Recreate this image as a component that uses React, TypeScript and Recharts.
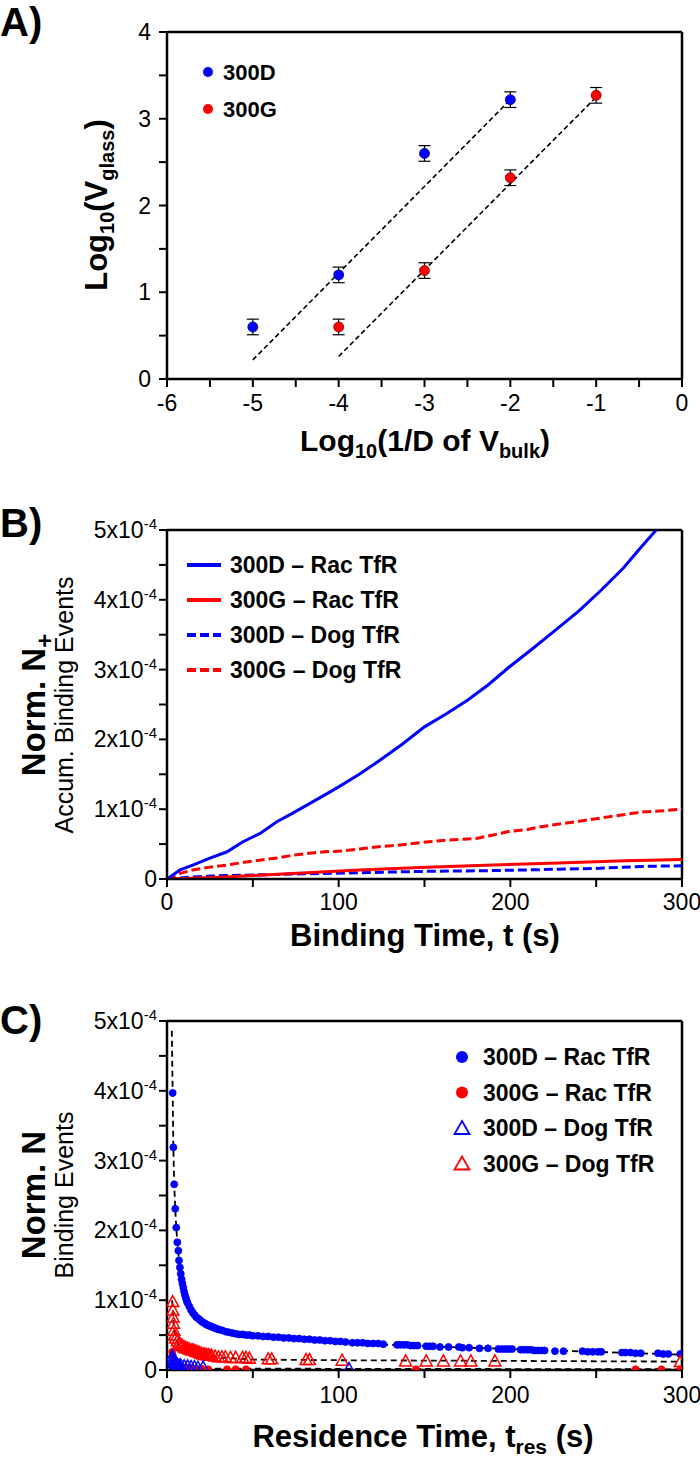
import React from 'react';
import { ComposedChart, XAxis, YAxis, Scatter, Line, ErrorBar, ReferenceLine } from 'recharts';

const FONT = "'Liberation Sans Narrow', 'Arial Narrow', 'Liberation Sans', Arial, sans-serif";
const BLUE = '#0000ff';
const RED = '#ff0000';

// ---------- Panel A ----------
const A_X_TICKS = [-6, -5.5, -5, -4.5, -4, -3.5, -3, -2.5, -2, -1.5, -1, -0.5, 0];
const A_Y_TICKS = [0, 0.5, 1, 1.5, 2, 2.5, 3, 3.5, 4];
const A_300D_X = [-5, -4, -3, -2];
const A_300D_Y = [0.6, 1.2, 2.6, 3.22];
const A_300D_ERR = [0.09, 0.09, 0.09, 0.09];
const A_300G_X = [-4, -3, -2, -1];
const A_300G_Y = [0.6, 1.25, 2.32, 3.27];
const A_300G_ERR = [0.09, 0.09, 0.09, 0.09];
const A_FIT_300D: [number, number][] = [[-5, 0.22], [-2, 3.22]];
const A_FIT_300G: [number, number][] = [[-4, 0.26], [-1, 3.25]];

// ---------- Panel B (values in units of 1e-4) ----------
const B_X_TICKS = [0, 50, 100, 150, 200, 250, 300];
const B_Y_TICKS = [0, 0.5, 1, 1.5, 2, 2.5, 3, 3.5, 4, 4.5, 5];
const B_300D_RAC: [number, number][] = [[0, 0], [7.6, 0.13], [15, 0.2], [25, 0.3], [35, 0.39], [44, 0.53], [54, 0.65], [64, 0.82], [73, 0.94], [83, 1.08], [93, 1.22], [100, 1.32], [112, 1.5], [124, 1.7], [137, 1.93], [150, 2.18], [163, 2.37], [175, 2.56], [187, 2.78], [199, 3.03], [214, 3.32], [227, 3.58], [240, 3.84], [253, 4.14], [266, 4.46], [276, 4.75], [285, 5.0]];
const B_300G_RAC: [number, number][] = [[0, 0], [35, 0.03], [73, 0.08], [112, 0.13], [151, 0.17], [190, 0.2], [228, 0.23], [267, 0.26], [300, 0.28]];
const B_300D_DOG: [number, number][] = [[0, 0], [15, 0.03], [35, 0.05], [73, 0.07], [112, 0.09], [151, 0.11], [190, 0.12], [228, 0.14], [248, 0.15], [277, 0.18], [300, 0.19]];
const B_300G_DOG: [number, number][] = [[0, 0], [7.6, 0.08], [15, 0.13], [25, 0.17], [35, 0.2], [45, 0.24], [54, 0.27], [64, 0.3], [73, 0.34], [83, 0.37], [92, 0.39], [102, 0.4], [112, 0.43], [122, 0.46], [137, 0.49], [151, 0.53], [165, 0.56], [180, 0.58], [190, 0.63], [199, 0.68], [210, 0.71], [218, 0.75], [238, 0.82], [257, 0.89], [277, 0.96], [290, 0.98], [300, 1.0]];

// ---------- Panel C (values in units of 1e-4) ----------
const C_X_TICKS = [0, 50, 100, 150, 200, 250, 300];
const C_Y_TICKS = [0, 0.5, 1, 1.5, 2, 2.5, 3, 3.5, 4, 4.5, 5];
const C_300D_RAC: [number, number][] = [[3.3, 3.97], [3.7, 3.19], [4.2, 2.66], [4.8, 2.31], [5.4, 2.04], [6.0, 1.83], [6.6, 1.71], [7.0, 1.57], [7.5, 1.47], [8, 1.38], [8.5, 1.3], [9, 1.24], [9.5, 1.18], [10, 1.12], [10.5, 1.07], [11, 1.03], [11.5, 0.99], [12, 0.96], [13, 0.91], [14, 0.86], [15, 0.82], [16, 0.79], [17, 0.76], [18, 0.74], [19, 0.72], [20, 0.7], [21, 0.68], [22, 0.67], [23, 0.65], [24, 0.64], [25, 0.63], [26, 0.62], [27, 0.61], [28, 0.6], [29, 0.59], [30, 0.58], [32, 0.57], [34, 0.55], [36, 0.54], [38, 0.53], [40, 0.52], [42, 0.51], [44, 0.51], [46, 0.5], [48, 0.5], [50, 0.49], [53, 0.49], [56, 0.48], [59, 0.48], [62, 0.47], [65, 0.47], [68, 0.46], [71, 0.46], [74, 0.45], [77, 0.45], [80, 0.44], [83, 0.44], [86, 0.43], [89, 0.43], [92, 0.42], [95, 0.42], [98, 0.41], [101, 0.41], [104, 0.4], [108, 0.39], [111, 0.39], [114, 0.39], [117, 0.38], [120, 0.38], [123, 0.38], [126, 0.37], [134, 0.36], [136, 0.36], [138, 0.36], [140, 0.36], [142, 0.35], [144, 0.35], [146, 0.35], [151, 0.34], [153, 0.34], [155, 0.34], [159, 0.33], [164, 0.33], [170, 0.33], [172, 0.32], [176, 0.32], [182, 0.31], [187, 0.31], [193, 0.3], [195, 0.3], [197, 0.3], [199, 0.3], [201, 0.3], [206, 0.29], [208, 0.29], [210, 0.29], [212, 0.29], [214, 0.28], [216, 0.28], [218, 0.28], [220, 0.28], [226, 0.27], [231, 0.27], [242, 0.27], [245, 0.26], [248, 0.26], [251, 0.26], [253, 0.26], [265, 0.25], [267, 0.25], [270, 0.25], [273, 0.24], [276, 0.24], [286, 0.24], [289, 0.23], [292, 0.23], [299, 0.23]];
const C_300G_RAC: [number, number][] = [[3.0, 0.26], [3.4, 0.2], [3.8, 0.15], [4.3, 0.11], [5, 0.08], [6, 0.06], [7, 0.05], [8, 0.04], [10, 0.03], [12, 0.03], [14, 0.02], [17, 0.02], [20, 0.02], [24, 0.01], [35, 0.01], [40, 0.01], [46, 0.01], [145, 0.01], [273, 0.01], [288, 0.01], [299, 0.01]];
const C_300D_DOG: [number, number][] = [[3.2, 0.2], [3.5, 0.16], [4, 0.13], [4.5, 0.11], [5, 0.09], [6, 0.08], [7, 0.07], [8, 0.07], [10, 0.06], [12, 0.06], [14, 0.05], [16, 0.05], [18, 0.04], [21, 0.04], [106, 0.02]];
const C_300G_DOG: [number, number][] = [[3.3, 0.98], [3.4, 0.86], [3.6, 0.76], [3.8, 0.67], [4.0, 0.57], [4.4, 0.5], [5, 0.46], [6, 0.42], [7, 0.39], [8, 0.37], [9, 0.35], [10, 0.33], [11, 0.32], [12, 0.31], [13, 0.3], [14, 0.29], [15, 0.29], [16, 0.28], [17, 0.27], [18, 0.26], [19, 0.25], [20, 0.24], [21, 0.23], [22, 0.23], [23, 0.22], [24, 0.22], [25, 0.21], [26, 0.21], [28, 0.2], [30, 0.19], [32, 0.19], [34, 0.19], [37, 0.18], [40, 0.18], [44, 0.18], [46, 0.18], [48, 0.17], [59, 0.16], [61, 0.16], [81, 0.15], [83, 0.15], [102, 0.14], [139, 0.13], [151, 0.13], [161, 0.13], [171, 0.13], [177, 0.13], [191, 0.13], [299, 0.12]];
const C_FIT_300D_RAC: [number, number][] = [[2.8, 4.86], [3.3, 3.97], [3.7, 3.19], [4.2, 2.66], [4.8, 2.31], [5.4, 2.04], [6, 1.83], [7, 1.57], [8, 1.38], [10, 1.12], [12, 0.96], [15, 0.82], [20, 0.7], [30, 0.58], [50, 0.49], [80, 0.44], [100, 0.41], [130, 0.36], [150, 0.34], [200, 0.3], [250, 0.26], [300, 0.22]];
const C_FIT_300G_DOG: [number, number][] = [[3.0, 1.0], [3.5, 0.78], [4, 0.6], [5, 0.45], [7, 0.36], [10, 0.31], [15, 0.26], [20, 0.22], [30, 0.18], [50, 0.15], [100, 0.14], [200, 0.13], [300, 0.12]];
const C_FIT_LOW: [number, number][] = [[3, 0.2], [4, 0.1], [6, 0.05], [10, 0.03], [20, 0.02], [300, 0.01]];

const toPts = (xs: number[], ys: number[], errs?: number[]) => xs.map((x, i) => ({ x, y: ys[i], err: errs ? errs[i] : 0 }));
const pairs = (p: [number, number][]) => p.map(([x, y]) => ({ x, y }));

const isInt = (v: number) => Math.abs(v - Math.round(v)) < 1e-9;

const XTick = (dy: number) => (props: any) => {
  const { x, y, payload } = props;
  if (!isInt(payload.value)) return null;
  return (
    <text x={x} y={y} dy={dy} textAnchor="middle" fontFamily={FONT} fontSize={23} fill="#000">
      {String(payload.value)}
    </text>
  );
};

const XTickHundreds = (dy: number) => (props: any) => {
  const { x, y, payload } = props;
  if (payload.value % 100 !== 0) return null;
  return (
    <text x={x} y={y} dy={dy} textAnchor="middle" fontFamily={FONT} fontSize={23} fill="#000">
      {String(payload.value)}
    </text>
  );
};

const YTickPlain = (props: any) => {
  const { x, y, payload } = props;
  if (!isInt(payload.value)) return null;
  return (
    <text x={x - 6} y={y + 8} textAnchor="end" fontFamily={FONT} fontSize={23} fill="#000">
      {String(payload.value)}
    </text>
  );
};

const YTickSci = (props: any) => {
  const { x, y, payload } = props;
  const v = payload.value;
  if (!isInt(v)) return null;
  if (v === 0) {
    return (
      <text x={x} y={y + 8} textAnchor="end" fontFamily={FONT} fontSize={23} fill="#000">0</text>
    );
  }
  return (
    <text x={x} y={y + 8} textAnchor="end" fontFamily={FONT} fontSize={23} fill="#000">
      <tspan>{`${v}x10`}</tspan>
      <tspan dy={-9} fontSize={15}>-4</tspan>
    </text>
  );
};

const axisLine = { stroke: '#000', strokeWidth: 2.5 };
const tickLine = { stroke: '#000', strokeWidth: 2 };

const dotShape = (fill: string, stroke: string, r: number) => (props: any) => (
  <circle cx={props.cx} cy={props.cy} r={r} fill={fill} stroke={stroke} strokeWidth={0.8} />
);
const triShape = (color: string) => (props: any) => {
  const { cx, cy } = props;
  return (
    <polygon
      points={`${cx},${cy - 6} ${cx + 6},${cy + 5} ${cx - 6},${cy + 5}`}
      fill="none"
      stroke={color}
      strokeWidth={1.5}
    />
  );
};

const PanelA = () => (
  <ComposedChart width={700} height={470} margin={{ top: 32, right: 18, left: 0, bottom: 0 }}>
    <XAxis type="number" dataKey="x" domain={[-6, 0]} ticks={A_X_TICKS} interval={0} allowDataOverflow
      axisLine={axisLine} tickLine={tickLine} tickSize={8} height={91} tick={XTick(22)} />
    <YAxis type="number" dataKey="y" domain={[0, 4]} ticks={A_Y_TICKS} interval={0} allowDataOverflow
      axisLine={axisLine} tickLine={tickLine} tickSize={8} width={167} tick={YTickPlain} />
    <ReferenceLine y={4} stroke="#000" strokeWidth={2.5} />
    <ReferenceLine x={0} stroke="#000" strokeWidth={2.5} />
    <Line data={pairs(A_FIT_300D)} dataKey="y" stroke="#000" strokeWidth={1.6} strokeDasharray="5 3" dot={false} isAnimationActive={false} />
    <Line data={pairs(A_FIT_300G)} dataKey="y" stroke="#000" strokeWidth={1.6} strokeDasharray="5 3" dot={false} isAnimationActive={false} />
    <Scatter data={toPts(A_300D_X, A_300D_Y, A_300D_ERR)} fill={BLUE} shape={dotShape(BLUE, '#00007a', 5)} isAnimationActive={false}>
      <ErrorBar dataKey="err" direction="y" width={6} stroke="#000" strokeWidth={1.2} />
    </Scatter>
    <Scatter data={toPts(A_300G_X, A_300G_Y, A_300G_ERR)} fill={RED} shape={dotShape(RED, '#7a0000', 5)} isAnimationActive={false}>
      <ErrorBar dataKey="err" direction="y" width={6} stroke="#000" strokeWidth={1.2} />
    </Scatter>
  </ComposedChart>
);

const PanelB = () => (
  <ComposedChart width={700} height={470} margin={{ top: 40, right: 18, left: 0, bottom: 0 }}>
    <XAxis type="number" dataKey="x" domain={[0, 300]} ticks={B_X_TICKS} interval={0} allowDataOverflow
      axisLine={axisLine} tickLine={tickLine} tickSize={8} height={81} tick={XTickHundreds(21)} />
    <YAxis type="number" dataKey="y" domain={[0, 5]} ticks={B_Y_TICKS} interval={0} allowDataOverflow
      axisLine={axisLine} tickLine={tickLine} tickSize={8} width={167} tick={YTickSci} />
    <ReferenceLine y={5} stroke="#000" strokeWidth={2.5} />
    <ReferenceLine x={300} stroke="#000" strokeWidth={2.5} />
    <Line data={pairs(B_300D_DOG)} dataKey="y" stroke={BLUE} strokeWidth={3} strokeDasharray="9 4" dot={false} isAnimationActive={false} />
    <Line data={pairs(B_300G_RAC)} dataKey="y" stroke={RED} strokeWidth={3} dot={false} isAnimationActive={false} />
    <Line data={pairs(B_300G_DOG)} dataKey="y" stroke={RED} strokeWidth={3} strokeDasharray="9 4" dot={false} isAnimationActive={false} />
    <Line data={pairs(B_300D_RAC)} dataKey="y" stroke={BLUE} strokeWidth={3} dot={false} isAnimationActive={false} />
  </ComposedChart>
);

const PanelC = () => (
  <ComposedChart width={700} height={470} margin={{ top: 41, right: 18, left: 0, bottom: 0 }}>
    <XAxis type="number" dataKey="x" domain={[0, 300]} ticks={C_X_TICKS} interval={0} allowDataOverflow
      axisLine={axisLine} tickLine={tickLine} tickSize={8} height={80} tick={XTickHundreds(23)} />
    <YAxis type="number" dataKey="y" domain={[0, 5]} ticks={C_Y_TICKS} interval={0} allowDataOverflow
      axisLine={axisLine} tickLine={tickLine} tickSize={8} width={167} tick={YTickSci} />
    <ReferenceLine y={5} stroke="#000" strokeWidth={2.5} />
    <ReferenceLine x={300} stroke="#000" strokeWidth={2.5} />
    <Scatter data={pairs(C_300D_RAC)} fill={BLUE} shape={dotShape(BLUE, BLUE, 3.5)} isAnimationActive={false} />
    <Scatter data={pairs(C_300G_DOG)} fill={RED} shape={triShape(RED)} isAnimationActive={false} />
    <Scatter data={pairs(C_300G_RAC)} fill={RED} shape={dotShape(RED, RED, 3.5)} isAnimationActive={false} />
    <Scatter data={pairs(C_300D_DOG)} fill={BLUE} shape={triShape(BLUE)} isAnimationActive={false} />
    <Line data={pairs(C_FIT_300D_RAC)} dataKey="y" stroke="#000" strokeWidth={1.8} strokeDasharray="6 4" dot={false} isAnimationActive={false} />
    <Line data={pairs(C_FIT_300G_DOG)} dataKey="y" stroke="#000" strokeWidth={1.8} strokeDasharray="6 4" dot={false} isAnimationActive={false} />
    <Line data={pairs(C_FIT_LOW)} dataKey="y" stroke="#000" strokeWidth={1.8} strokeDasharray="6 4" dot={false} isAnimationActive={false} />
  </ComposedChart>
);

const B_LEGEND = [
  { label: '300D – Rac TfR', color: BLUE, dash: undefined },
  { label: '300G – Rac TfR', color: RED, dash: undefined },
  { label: '300D – Dog TfR', color: BLUE, dash: '9 4' },
  { label: '300G – Dog TfR', color: RED, dash: '9 4' },
];
const C_LEGEND = [
  { label: '300D – Rac TfR', color: BLUE, tri: false },
  { label: '300G – Rac TfR', color: RED, tri: false },
  { label: '300D – Dog TfR', color: BLUE, tri: true },
  { label: '300G – Dog TfR', color: RED, tri: true },
];

const Overlay = () => (
  <svg width={700} height={1457} style={{ position: 'absolute', left: 0, top: 0, pointerEvents: 'none' }}>
    {/* Panel letters */}
    <text x={0} y={36} fontFamily="'Liberation Sans', Arial, sans-serif" fontWeight="bold" fontSize={40}>A)</text>
    <text x={0} y={537} fontFamily="'Liberation Sans', Arial, sans-serif" fontWeight="bold" fontSize={40}>B)</text>
    <text x={0} y={1034} fontFamily="'Liberation Sans', Arial, sans-serif" fontWeight="bold" fontSize={40}>C)</text>

    {/* Panel A legend */}
    <circle cx={208} cy={72} r={5} fill={BLUE} />
    <text x={223} y={80} fontFamily={FONT} fontWeight="bold" fontSize={22}>300D</text>
    <circle cx={208} cy={109} r={5} fill={RED} />
    <text x={223} y={117} fontFamily={FONT} fontWeight="bold" fontSize={22}>300G</text>

    {/* Panel A titles */}
    <text x={425} y={451} textAnchor="middle" fontFamily={FONT} fontWeight="bold" fontSize={30}>
      Log<tspan dy={7} fontSize={20}>10</tspan><tspan dy={-7}>(1/D of V</tspan><tspan dy={7} fontSize={20}>bulk</tspan><tspan dy={-7}>)</tspan>
    </text>
    <text transform="translate(107,205) rotate(-90)" textAnchor="middle" fontFamily={FONT} fontWeight="bold" fontSize={31}>
      Log<tspan dy={7} fontSize={20}>10</tspan><tspan dy={-7}>(V</tspan><tspan dy={7} fontSize={20}>glass</tspan><tspan dy={-7}>)</tspan>
    </text>

    {/* Panel B legend */}
    {B_LEGEND.map((d, i) => {
      const cy = 565 + i * 35;
      return (
        <g key={d.label}>
          <line x1={187} x2={221} y1={cy} y2={cy} stroke={d.color} strokeWidth={4} strokeDasharray={d.dash} />
          <text x={230} y={cy + 8} fontFamily={FONT} fontWeight="bold" fontSize={23}>{d.label}</text>
        </g>
      );
    })}
    {/* Panel B titles */}
    <text x={425} y={946} textAnchor="middle" fontFamily={FONT} fontWeight="bold" fontSize={31}>Binding Time, t (s)</text>
    <text transform="translate(45,705) rotate(-90)" textAnchor="middle" fontFamily={FONT} fontWeight="bold" fontSize={33}>
      Norm. N<tspan dy={8} fontSize={24}>+</tspan>
    </text>
    <text transform="translate(73,705) rotate(-90)" textAnchor="middle" fontFamily={FONT} fontSize={25}>Accum. Binding Events</text>

    {/* Panel C legend */}
    {C_LEGEND.map((d, i) => {
      const cy = 1057 + i * 35.5;
      return (
        <g key={d.label}>
          {d.tri ? (
            <polygon points={`462,${cy - 7} 469.5,${cy + 6} 454.5,${cy + 6}`} fill="none" stroke={d.color} strokeWidth={1.8} />
          ) : (
            <circle cx={462} cy={cy} r={6} fill={d.color} />
          )}
          <text x={483} y={cy + 8} fontFamily={FONT} fontWeight="bold" fontSize={23}>{d.label}</text>
        </g>
      );
    })}
    {/* Panel C titles */}
    <text x={423} y={1447} textAnchor="middle" fontFamily={FONT} fontWeight="bold" fontSize={31}>
      Residence Time, t<tspan dy={7} fontSize={21}>res</tspan><tspan dy={-7}> (s)</tspan>
    </text>
    <text transform="translate(45,1195) rotate(-90)" textAnchor="middle" fontFamily={FONT} fontWeight="bold" fontSize={33}>Norm. N</text>
    <text transform="translate(73,1195) rotate(-90)" textAnchor="middle" fontFamily={FONT} fontSize={25}>Binding Events</text>
  </svg>
);

export default function App() {
  return (
    <div style={{ position: 'absolute', left: 0, top: 0, width: 700, height: 1457, background: '#fff', overflow: 'hidden' }}>
      <div style={{ position: 'absolute', left: 0, top: 0 }}><PanelA /></div>
      <div style={{ position: 'absolute', left: 0, top: 490 }}><PanelB /></div>
      <div style={{ position: 'absolute', left: 0, top: 980 }}><PanelC /></div>
      <Overlay />
    </div>
  );
}
